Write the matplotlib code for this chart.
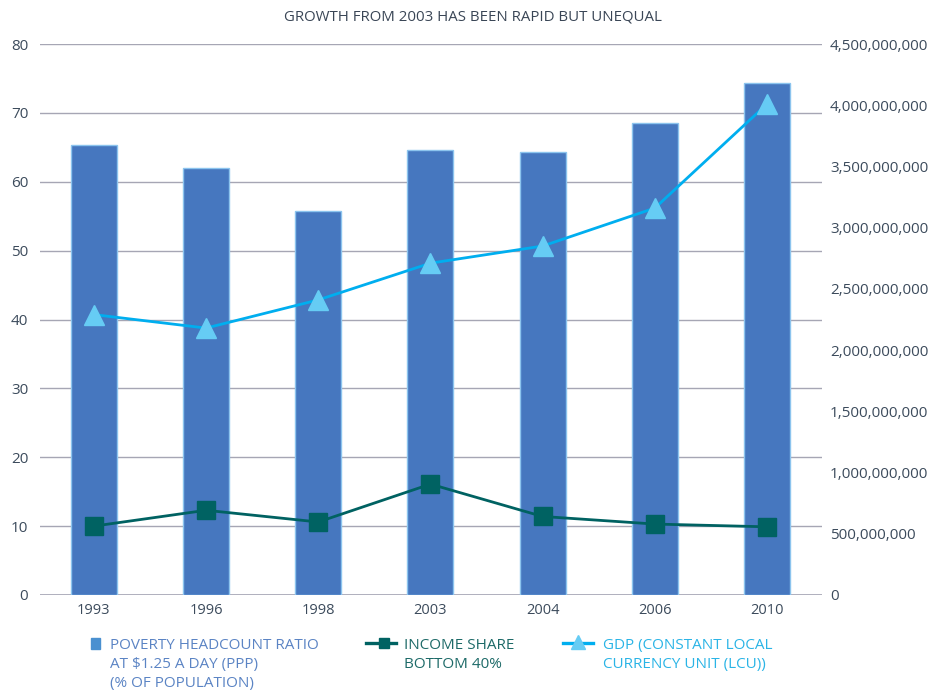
import matplotlib.pyplot as plt
from matplotlib.lines import Line2D
from matplotlib.patches import Rectangle
from matplotlib.ticker import FuncFormatter

plt.rcParams['font.family'] = ['Open Sans', 'DejaVu Sans']

years = ['1993', '1996', '1998', '2003', '2004', '2006', '2010']
poverty = [65.3, 62.0, 55.7, 64.6, 64.3, 68.5, 74.3]
income_share = [10.0, 12.3, 10.6, 16.1, 11.4, 10.3, 9.9]
gdp = [2.29e9, 2.18e9, 2.41e9, 2.71e9, 2.85e9, 3.16e9, 4.01e9]

bar_col = '#4677bf'
bar_edge = '#8cc4ee'
inc_col = '#006262'
gdp_line = '#00aeef'
gdp_mark = '#66ccf4'
grid_col = '#a6a6b4'
tick_col = '#3c4b5c'

W, H = 937, 691
fig = plt.figure(figsize=(W / 100, H / 100), dpi=100)
ax = fig.add_axes([40 / W, 1 - 595 / H, 782 / W, 551 / H])
ax2 = ax.twinx()

x = list(range(len(years)))
ax.bar(x, poverty, width=0.41, color=bar_col, edgecolor=bar_edge, linewidth=1, zorder=2)
ax.plot(x, income_share, color=inc_col, lw=2, marker='s', ms=13, zorder=3)
ax2.plot(x, gdp, color=gdp_line, lw=2, marker='^', ms=14,
         markerfacecolor=gdp_mark, markeredgecolor=gdp_mark, zorder=3)

ax.set_xlim(-0.48, 6.49)
ax.set_ylim(0, 80)
ax.set_yticks(range(0, 81, 10))
ax2.set_ylim(0, 4.5e9)
ax2.set_yticks([i * 5e8 for i in range(10)])
ax2.yaxis.set_major_formatter(FuncFormatter(lambda v, p: f'{v:,.0f}'))
ax.set_xticks(x)
ax.set_xticklabels(years)

ax.grid(axis='y', color=grid_col, lw=1, zorder=0)
ax.set_axisbelow(True)
for a in (ax, ax2):
    for s in a.spines.values():
        s.set_visible(False)
    a.tick_params(length=0, labelsize=11, labelcolor=tick_col)
ax.tick_params(axis='y', pad=8.5)
ax2.tick_params(axis='y', pad=5.8)
ax.tick_params(axis='x', pad=6, labelsize=10.5)
ax.axhline(0, color=grid_col, lw=1.2, zorder=1)

fig.text(473 / W, 1 - 17 / H, 'GROWTH FROM 2003 HAS BEEN RAPID BUT UNEQUAL',
         ha='center', va='center', fontsize=10.8, color='#3a4656')


# legend, placed in figure pixels
def fx(px):
    return px / W


def fy(py):
    return 1 - py / H


def legend_text(px, lines, color):
    for i, s in enumerate(lines):
        fig.text(fx(px), fy(649 + 19 * i), s, ha='left', va='baseline',
                 fontsize=11, color=color)


fig.patches.append(Rectangle((fx(91), fy(649)), 9 / W, 11 / H,
                             transform=fig.transFigure, color='#4a90d0'))
legend_text(110, ['POVERTY HEADCOUNT RATIO', 'AT $1.25 A DAY (PPP)', '(% OF POPULATION)'],
            '#5b84c4')

fig.lines.append(Line2D([fx(366), fx(396)], [fy(643), fy(643)], color=inc_col, lw=2.4,
                        transform=fig.transFigure))
fig.lines.append(Line2D([fx(384)], [fy(643)], color=inc_col, marker='s', ms=6.5,
                        transform=fig.transFigure))
legend_text(404, ['INCOME SHARE', 'BOTTOM 40%'], '#1d6a68')

fig.lines.append(Line2D([fx(563), fx(593)], [fy(643), fy(643)], color=gdp_line, lw=2.4,
                        transform=fig.transFigure))
fig.lines.append(Line2D([fx(578)], [fy(642)], color=gdp_mark, marker='^', ms=10,
                        transform=fig.transFigure))
legend_text(603, ['GDP (CONSTANT LOCAL', 'CURRENCY UNIT (LCU))'], '#2ab4e6')

fig.savefig('out.png', dpi=100)
